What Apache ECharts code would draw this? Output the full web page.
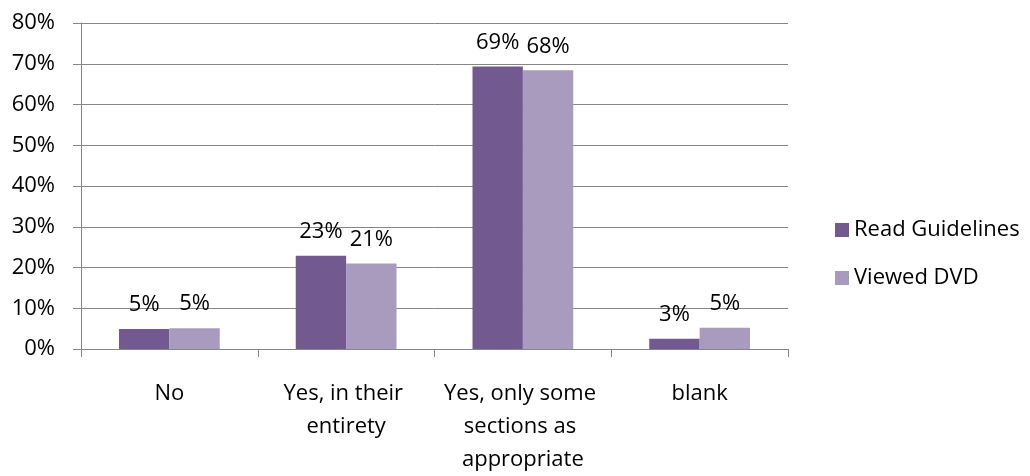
<!DOCTYPE html>
<html>
<head>
<meta charset="utf-8">
<script src="https://cdn.jsdelivr.net/npm/echarts@6/dist/echarts.min.js"></script>
<style>
html,body{margin:0;padding:0;background:#fff;}
#chart{width:1030px;height:476px;}
</style>
</head>
<body>
<div id="chart"></div>
<script>
const categories = ["No", "Yes, in their entirety", "Yes, only some sections as appropriate", "blank"];
const seriesNames = ["Read Guidelines", "Viewed DVD"];
const readGuidelines = [4.9, 22.9, 69.3, 2.5];
const viewedDVD = [5.1, 21.0, 68.4, 5.2];
const yTicks = [0, 10, 20, 30, 40, 50, 60, 70, 80];

const FONT = "Open Sans";
const GREY = "#868686";
const FS = 22;
const chart = echarts.init(document.getElementById('chart'), null, {renderer: 'canvas'});

const labelOpt = {
  show: true,
  position: 'top',
  distance: 13,
  fontFamily: FONT,
  fontSize: FS,
  color: '#000',
  formatter: p => Math.round(p.value) + '%'
};

chart.setOption({
  animation: false,
  textStyle: {fontFamily: FONT},
  grid: {left: 81, right: 242, top: 23, bottom: 124, containLabel: false},
  legend: {
    orient: 'vertical',
    left: 830,
    top: 213,
    itemWidth: 14,
    itemHeight: 14,
    itemGap: 24,
    icon: 'rect',
    textStyle: {fontFamily: FONT, fontSize: FS, color: '#000', lineHeight: 24},
    data: seriesNames
  },
  xAxis: {
    type: 'category',
    data: categories,
    axisLine: {show: true, lineStyle: {color: GREY, width: 1}},
    axisTick: {show: true, alignWithLabel: false, length: 8, lineStyle: {color: GREY}},
    axisLabel: {
      interval: 0,
      margin: 28,
      fontFamily: FONT,
      fontSize: FS,
      color: '#000',
      lineHeight: 33,
      width: 172,
      overflow: 'break',
      align: 'center'
    }
  },
  yAxis: {
    type: 'value',
    min: yTicks[0],
    max: yTicks[yTicks.length - 1],
    interval: 10,
    axisLine: {show: true, lineStyle: {color: GREY, width: 1}},
    axisTick: {show: true, length: 8, lineStyle: {color: GREY}},
    splitLine: {show: true, lineStyle: {color: GREY, width: 1}},
    axisLabel: {
      margin: 26,
      fontFamily: FONT,
      fontSize: FS,
      color: '#000',
      formatter: v => v + '%'
    }
  },
  series: [
    {
      name: seriesNames[0],
      type: 'bar',
      data: readGuidelines,
      barGap: '0%',
      barCategoryGap: '43%',
      itemStyle: {color: '#725990'},
      label: labelOpt
    },
    {
      name: seriesNames[1],
      type: 'bar',
      data: viewedDVD,
      barGap: '0%',
      barCategoryGap: '43%',
      itemStyle: {color: '#A99BBD'},
      label: labelOpt
    }
  ]
});
</script>
</body>
</html>
